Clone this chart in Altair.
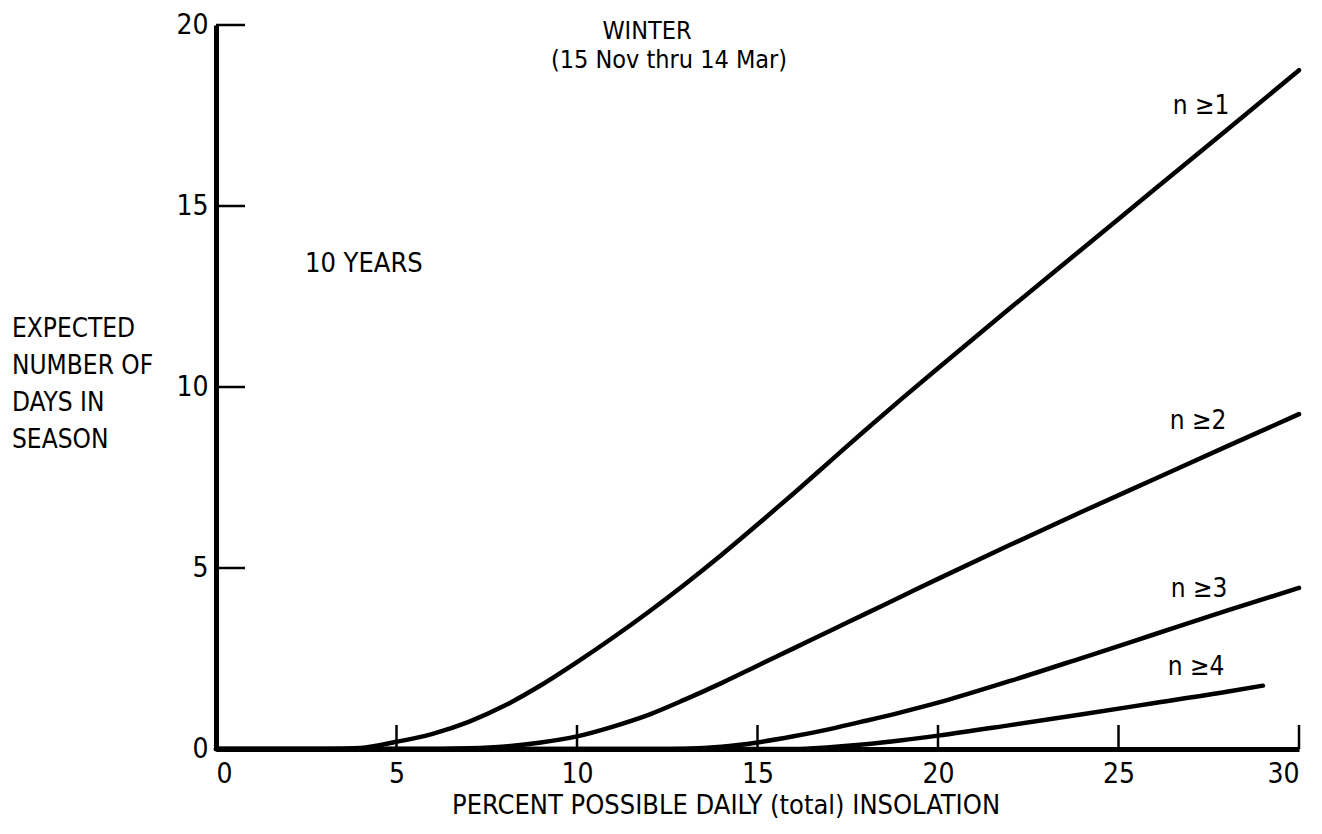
import altair as alt
import pandas as pd

# ---- data ----
n1_x = [0, 3, 4, 5, 6, 7, 8, 9, 10, 11, 12, 13, 14, 15, 16, 17, 18, 19, 20, 22, 24, 26, 28, 30]
n1_y = [0, 0, 0.03, 0.2, 0.42, 0.75, 1.2, 1.76, 2.4, 3.08, 3.8, 4.56, 5.36, 6.2, 7.06, 7.94, 8.82, 9.68, 10.52, 12.18, 13.82, 15.46, 17.1, 18.75]

n2_x = [0, 6, 7, 8, 9, 10, 11, 12, 13, 14, 15, 16, 17, 18, 19, 20, 22, 24, 26, 28, 30]
n2_y = [0, 0, 0.02, 0.07, 0.18, 0.35, 0.62, 0.95, 1.37, 1.82, 2.3, 2.78, 3.26, 3.74, 4.22, 4.7, 5.64, 6.56, 7.46, 8.36, 9.25]

n3_x = [0, 12, 13, 14, 15, 16, 17, 18, 19, 20, 22, 24, 26, 28, 30]
n3_y = [0, 0, 0.01, 0.06, 0.18, 0.35, 0.55, 0.78, 1.02, 1.28, 1.88, 2.52, 3.17, 3.82, 4.45]

n4_x = [0, 16, 17, 18, 19, 20, 22, 24, 26, 28, 29]
n4_y = [0, 0, 0.05, 0.13, 0.24, 0.37, 0.66, 0.96, 1.27, 1.58, 1.75]

series_names = ["n \u22651", "n \u22652", "n \u22653", "n \u22654"]
x_ticks = [0, 5, 10, 15, 20, 25, 30]
y_ticks = [0, 5, 10, 15, 20]
x_inner_ticks = [5, 10, 15, 20, 25, 30]
y_inner_ticks = [5, 10, 15, 20]

title_lines = ["WINTER", "(15 Nov thru 14 Mar)"]
note_text = "10 YEARS"
y_title_lines = ["EXPECTED", "NUMBER OF", "DAYS IN", "SEASON"]
x_title = "PERCENT POSSIBLE DAILY (total) INSOLATION"

FONT = "DejaVu Sans Condensed, Liberation Sans, sans-serif"
W, H = 1083, 724
TOP = 25  # page y of plot top (for text placement relative to plot)

rows = []
for name, xs, ys in zip(series_names, [n1_x, n2_x, n3_x, n4_x], [n1_y, n2_y, n3_y, n4_y]):
    for xv, yv in zip(xs, ys):
        rows.append({"series": name, "x": xv, "y": yv})
df = pd.DataFrame(rows)

xscale = alt.Scale(domain=[0, 30], nice=False, zero=False)
yscale = alt.Scale(domain=[0, 20], nice=False, zero=False)

lines = alt.Chart(df).mark_line(
    color="black", strokeWidth=4.5, interpolate="monotone", strokeCap="round"
).encode(
    x=alt.X("x:Q", scale=xscale, axis=alt.Axis(
        values=x_ticks, title=None, ticks=False, tickSize=0, grid=False,
        domainColor="black", domainWidth=5, labelFont=FONT, labelFontSize=28,
        labelColor="black", labelPadding=11, format="d")),
    y=alt.Y("y:Q", scale=yscale, axis=alt.Axis(
        values=y_ticks, title=None, ticks=False, tickSize=0, grid=False,
        domainColor="black", domainWidth=5, labelFont=FONT, labelFontSize=28,
        labelColor="black", labelPadding=8, format="d")),
    detail="series:N",
)

ytick_df = pd.DataFrame({"v": y_inner_ticks})
ytk = alt.Chart(ytick_df).mark_rule(color="black", strokeWidth=2.5).encode(
    y=alt.Y("v:Q", scale=yscale), x=alt.value(0), x2=alt.value(29)
)
xtick_df = pd.DataFrame({"v": x_inner_ticks})
xtk = alt.Chart(xtick_df).mark_rule(color="black", strokeWidth=2.5).encode(
    x=alt.X("v:Q", scale=xscale), y=alt.value(H), y2=alt.value(H - 24)
)

def txt(s, x, y, align="center", size=26):
    return alt.Chart(pd.DataFrame({"t": [s]})).mark_text(
        font=FONT, fontSize=size, color="black", align=align, baseline="middle"
    ).encode(text="t:N", x=alt.value(x), y=alt.value(y - TOP))

texts = [
    txt(title_lines[0], 431, 31, size=25),
    txt(title_lines[1], 453, 60, size=25),
    txt(note_text, 89, 264, align="left", size=27),
    txt(x_title, 236, 806, align="left", size=27),
    txt(series_names[0], 985, 106),
    txt(series_names[1], 982, 421),
    txt(series_names[2], 983, 589),
    txt(series_names[3], 980, 667),
]
for i, line in enumerate(y_title_lines):
    texts.append(txt(line, -204, 329 + i * 37, align="left", size=26))

chart = alt.layer(lines, ytk, xtk, *texts).properties(
    width=W, height=H,
    autosize=alt.AutoSizeParams(type="none"),
    padding={"left": 208, "top": 17, "right": 15, "bottom": 71},
).configure_view(stroke=None)

chart.save("out.html", embed_options={"renderer": "svg", "actions": False})
